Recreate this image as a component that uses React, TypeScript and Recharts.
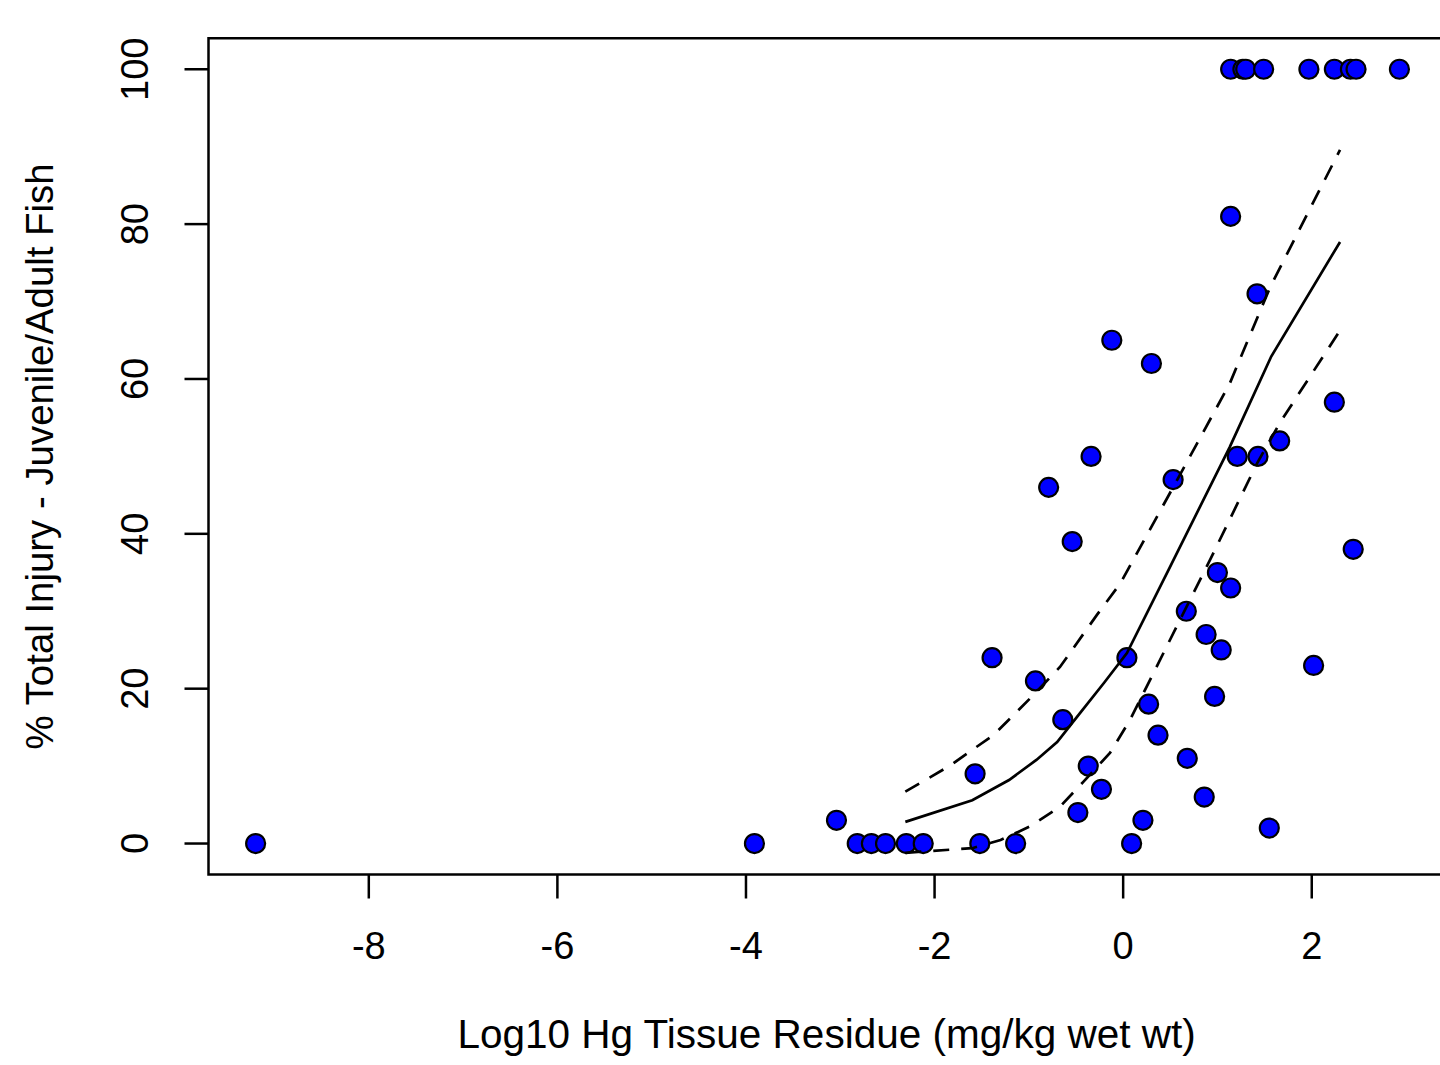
import React from 'react';
import { ScatterChart, Scatter, XAxis, YAxis, ReferenceArea } from 'recharts';

// observed points: log10 Hg tissue residue vs % total injury
const POINT_X = [
  -9.2, -3.91, -3.04, -2.82, -2.67, -2.52, -2.3, -2.12, -1.57, -1.52, -1.39, -1.14,
  -0.93, -0.79, -0.64, -0.54, -0.48, -0.37, -0.34, -0.23, -0.12, 0.04, 0.09, 0.21,
  0.27, 0.3, 0.37, 0.53, 0.67, 0.68, 0.86, 0.88, 0.97, 1.0, 1.04, 1.14, 1.14, 1.14,
  1.21, 1.27, 1.3, 1.42, 1.43, 1.49, 1.55, 1.66, 1.97, 2.02, 2.24, 2.24, 2.41, 2.44,
  2.47, 2.93,
];
const POINT_Y = [
  0, 0, 3, 0, 0, 0, 0, 0, 9, 0, 24, 0,
  21, 46, 16, 39, 4, 10, 50, 7, 65, 24, 0, 3,
  18, 62, 14, 47, 30, 11, 6, 27, 19, 35, 25, 33, 81, 100,
  50, 100, 100, 71, 50, 100, 2, 52, 100, 23, 57, 100, 100, 38,
  100, 100,
];

// fitted curve and confidence bounds
const FIT_X = [-2.31, -1.6, -1.21, -0.92, -0.7, -0.46, -0.2, 0.04, 0.5, 1.13, 1.57, 2.3];
const FIT_Y = [2.8, 5.6, 8.2, 10.8, 13.1, 16.8, 20.8, 24.6, 35.8, 51.2, 62.9, 77.7];

const UPPER_X = [-2.31, -1.83, -1.6, -1.375, -0.95, -0.67, -0.28, -0.03, 0.57, 1.13, 1.56, 2.3];
const UPPER_Y = [6.7, 10.1, 12.1, 14.0, 19.2, 22.8, 29.5, 33.6, 46.9, 59.4, 71.9, 89.6];

const LOWER_X = [-2.31, -1.6, -1.3, -0.99, -0.67, -0.42, -0.14, 0.07, 0.46, 0.92, 1.42, 1.66, 2.28];
const LOWER_Y = [-1.2, -0.6, 0.45, 2.2, 4.75, 8.0, 11.7, 15.9, 25.4, 36.6, 49.1, 54.3, 65.9];

const X_TICKS = [-8, -6, -4, -2, 0, 2];
const Y_TICKS = [0, 20, 40, 60, 80, 100];

const X_MIN = -9.7;
const X_MAX = 3.41;
const Y_MIN = -4;
const Y_MAX = 104;

const FONT = '"Liberation Sans", Arial, Helvetica, sans-serif';

const toPoints = (xs: number[], ys: number[]) => xs.map((x, i) => ({ x, y: ys[i] }));

const points = toPoints(POINT_X, POINT_Y);
const fit = toPoints(FIT_X, FIT_Y);
const upper = toPoints(UPPER_X, UPPER_Y);
const lower = toPoints(LOWER_X, LOWER_Y);

const XTick = (props: any) => {
  const { x, payload } = props;
  return (
    <text x={x} y={874.5 + 84} textAnchor="middle" fontSize={38} fontFamily={FONT} fill="#000">
      {payload.value}
    </text>
  );
};

const YTick = (props: any) => {
  const { y, payload } = props;
  const bx = 148.5;
  return (
    <text
      x={bx}
      y={y}
      transform={`rotate(-90 ${bx} ${y})`}
      textAnchor="middle"
      fontSize={38}
      fontFamily={FONT}
      fill="#000"
    >
      {payload.value}
    </text>
  );
};

const Dot = (props: any) => (
  <circle cx={props.cx} cy={props.cy} r={9.5} fill="#0000FF" stroke="#000" strokeWidth={2.2} />
);

const NoDot = () => <g />;

export default function App() {
  return (
    <div style={{ position: 'absolute', left: 0, top: 0, width: 1440, height: 1065, overflow: 'hidden', background: '#fff' }}>
      <ScatterChart width={1460} height={1065} margin={{ top: 38.3, right: 15.3, bottom: 0, left: 0 }}>
        <XAxis
          type="number"
          dataKey="x"
          domain={[X_MIN, X_MAX]}
          ticks={X_TICKS}
          allowDataOverflow
          axisLine={false}
          tickLine={{ stroke: '#000', strokeWidth: 2.5 }}
          tickSize={24}
          tick={<XTick />}
          height={190.5}
          label={{
            content: (p: any) => {
              const vb = p.viewBox || { x: 208.5, width: 1236 };
              return (
                <text x={vb.x + vb.width / 2} y={1048} textAnchor="middle" fontSize={40.5} fontFamily={FONT} fill="#000">
                  Log10 Hg Tissue Residue (mg/kg wet wt)
                </text>
              );
            },
          }}
        />
        <YAxis
          type="number"
          dataKey="y"
          domain={[Y_MIN, Y_MAX]}
          ticks={Y_TICKS}
          allowDataOverflow
          axisLine={false}
          tickLine={{ stroke: '#000', strokeWidth: 2.5 }}
          tickSize={24}
          tick={<YTick />}
          width={208.5}
          label={{
            content: (p: any) => {
              const vb = p.viewBox || { y: 38.3, height: 836 };
              const cy = vb.y + vb.height / 2;
              return (
                <text
                  x={53}
                  y={cy}
                  transform={`rotate(-90 53 ${cy})`}
                  textAnchor="middle"
                  fontSize={38.4}
                  fontFamily={FONT}
                  fill="#000"
                >
                  % Total Injury - Juvenile/Adult Fish
                </text>
              );
            },
          }}
        />
        <ReferenceArea
          x1={X_MIN}
          x2={X_MAX}
          y1={Y_MIN}
          y2={Y_MAX}
          fill="none"
          fillOpacity={0}
          stroke="#000"
          strokeWidth={2.5}
          ifOverflow="visible"
        />
        <Scatter data={points} shape={Dot} isAnimationActive={false} />
        <Scatter
          data={fit}
          shape={NoDot}
          line={{ stroke: '#000', strokeWidth: 2.7 }}
          lineType="joint"
          isAnimationActive={false}
        />
        <Scatter
          data={upper}
          shape={NoDot}
          line={{ stroke: '#000', strokeWidth: 2.7, strokeDasharray: '16 12' }}
          lineType="joint"
          isAnimationActive={false}
        />
        <Scatter
          data={lower}
          shape={NoDot}
          line={{ stroke: '#000', strokeWidth: 2.7, strokeDasharray: '16 12' }}
          lineType="joint"
          isAnimationActive={false}
        />
      </ScatterChart>
    </div>
  );
}
